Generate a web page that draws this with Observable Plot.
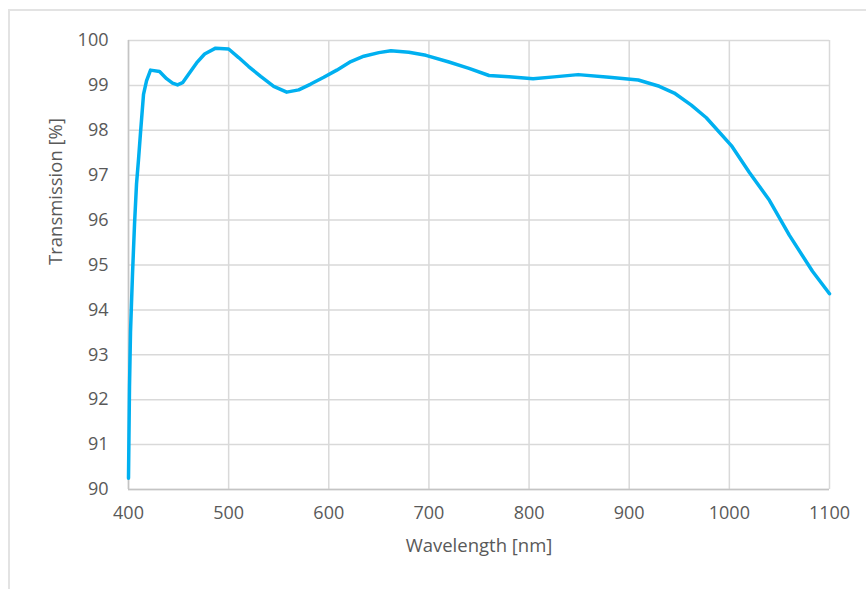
<!DOCTYPE html>
<html>
<head>
<meta charset="utf-8">
<script src="https://cdn.jsdelivr.net/npm/d3@7"></script>
<script src="https://cdn.jsdelivr.net/npm/@observablehq/plot@0.6"></script>
<style>
  html, body { margin: 0; padding: 0; background: #fff; }
  #wrap { position: relative; width: 866px; height: 589px; overflow: hidden; }
  #frame { position: absolute; left: 8px; top: 9px; width: 900px; height: 700px;
           border-left: 2px solid #e3e3e3; border-top: 2px solid #e3e3e3; box-sizing: border-box; }
  #chart { position: absolute; left: 0; top: 0; }
</style>
</head>
<body>
<div id="wrap"><div id="frame"></div><div id="chart"></div></div>
<script>
const wavelength = [400, 401, 402, 404, 406, 408, 410, 412, 415, 418, 422, 431, 438, 444, 449, 454, 460, 468, 476, 487, 500, 510, 520, 532, 545, 558, 570, 582, 595, 608, 622, 635, 650, 662, 680, 697, 720, 740, 760, 780, 804, 825, 849, 880, 909, 930, 945, 962, 977, 1002, 1020, 1040, 1060, 1083, 1100];
const transmission = [90.25, 92.3, 93.5, 94.8, 95.9, 96.8, 97.35, 97.95, 98.8, 99.1, 99.34, 99.31, 99.15, 99.05, 99.01, 99.06, 99.25, 99.5, 99.7, 99.83, 99.81, 99.62, 99.42, 99.2, 98.98, 98.85, 98.9, 99.03, 99.18, 99.34, 99.53, 99.65, 99.73, 99.77, 99.74, 99.67, 99.52, 99.38, 99.22, 99.19, 99.15, 99.19, 99.24, 99.18, 99.12, 98.98, 98.83, 98.56, 98.28, 97.66, 97.06, 96.44, 95.66, 94.86, 94.36];
const xTicks = [400, 500, 600, 700, 800, 900, 1000, 1100];
const yTicks = [90, 91, 92, 93, 94, 95, 96, 97, 98, 99, 100];

const data = wavelength.map((w, i) => ({w, t: transmission[i]}));
const font = "'Open Sans', sans-serif";

const chart = Plot.plot({
  width: 866,
  height: 589,
  marginLeft: 128,
  marginRight: 37,
  marginTop: 40,
  marginBottom: 100,
  style: {fontFamily: font, fontSize: "18px", color: "#595959", background: "transparent", overflow: "visible"},
  x: {domain: [400, 1100], ticks: xTicks},
  y: {domain: [90, 100], ticks: yTicks},
  marks: [
    Plot.gridX(xTicks, {stroke: "#d9d9d9", strokeOpacity: 1, strokeWidth: 1.5}),
    Plot.gridY(yTicks, {stroke: "#d9d9d9", strokeOpacity: 1, strokeWidth: 1.5}),
    Plot.ruleY([90], {stroke: "#c4c4c4", strokeWidth: 1.5}),
    Plot.ruleX([400], {stroke: "#c4c4c4", strokeWidth: 1.5}),
    Plot.axisX(xTicks, {tickSize: 0, tickPadding: 17, fill: "#595959", fontSize: 18, label: null, tickFormat: d => String(d)}),
    Plot.axisY(yTicks, {tickSize: 0, tickPadding: 20, fill: "#595959", fontSize: 18, label: null, tickFormat: d => String(d)}),
    Plot.line(data, {x: "w", y: "t", stroke: "#00B0F0", strokeWidth: 3.5, strokeLinejoin: "round", strokeLinecap: "round"}),
    Plot.text(["Wavelength [nm]"], {frameAnchor: "bottom", dy: 62, fill: "#595959", fontSize: 18.5}),
    Plot.text(["Transmission [%]"], {frameAnchor: "left", dx: -72, rotate: -90, fill: "#595959", fontSize: 18.5})
  ]
});
document.getElementById("chart").appendChild(chart);
</script>
</body>
</html>
